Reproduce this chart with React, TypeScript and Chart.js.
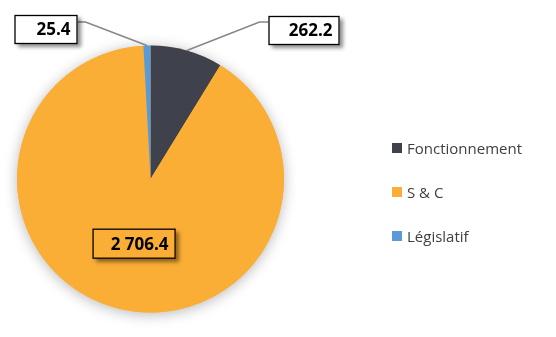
import React, { useEffect, useRef } from "react";
import { Chart, registerables } from "chart.js";

Chart.register(...registerables);

const categories = ["Fonctionnement", "S & C", "Législatif"];
const values = [262.2, 2706.4, 25.4];
const colors = ["#3F414C", "#FBAE36", "#5B9BD5"];

// label placement (layout only), relative to pie centre
const labelLayout = [
  { kind: "out", box: { dx: 118, dy: -163, w: 71, h: 29 }, elbow: { dx: 109, dy: -157 }, side: "left" },
  { kind: "in", k: 0.5, w: 83, h: 30 },
  { kind: "out", box: { dx: -136, dy: -164, w: 63, h: 29 }, elbow: { dx: -65, dy: -157 }, side: "right" },
];

function fmt(v: number): string {
  const [i, d] = v.toFixed(1).split(".");
  return i.replace(/\B(?=(\d{3})+(?!\d))/g, " ") + "." + d;
}

const FONT = "'Open Sans', 'Noto Sans', sans-serif";

const shadowPlugin = {
  id: "pieShadow",
  beforeDatasetsDraw(chart: any) {
    const meta = chart.getDatasetMeta(0);
    const a = meta.data[0];
    if (!a) return;
    const ctx = chart.ctx;
    ctx.save();
    ctx.shadowColor = "rgba(0,0,0,0.28)";
    ctx.shadowBlur = 14;
    ctx.shadowOffsetX = 0;
    ctx.shadowOffsetY = 2;
    ctx.fillStyle = "#FBAE36";
    ctx.beginPath();
    ctx.arc(a.x, a.y, a.outerRadius, 0, Math.PI * 2);
    ctx.fill();
    ctx.restore();
  },
};

const labelPlugin = {
  id: "boxLabels",
  afterDatasetsDraw(chart: any) {
    const meta = chart.getDatasetMeta(0);
    const ctx = chart.ctx;
    const data = chart.data.datasets[0].data as number[];
    meta.data.forEach((arc: any, i: number) => {
      const L: any = labelLayout[i];
      const cx = arc.x, cy = arc.y, r = arc.outerRadius;
      const mid = (arc.startAngle + arc.endAngle) / 2;
      const text = fmt(data[i]);
      let bx: number, by: number, bw: number, bh: number;
      if (L.kind === "out") {
        bx = cx + L.box.dx; by = cy + L.box.dy; bw = L.box.w; bh = L.box.h;
        const px = cx + Math.cos(mid) * r, py = cy + Math.sin(mid) * r;
        const ex = cx + L.elbow.dx, ey = cy + L.elbow.dy;
        const ax = L.side === "left" ? bx : bx + bw;
        ctx.save();
        ctx.strokeStyle = "#878787";
        ctx.lineWidth = 1.6;
        ctx.beginPath();
        ctx.moveTo(px, py);
        ctx.lineTo(ex, ey);
        ctx.lineTo(ax, ey);
        ctx.stroke();
        ctx.restore();
      } else {
        const px = cx + Math.cos(mid) * r * L.k, py = cy + Math.sin(mid) * r * L.k;
        bw = L.w; bh = L.h; bx = px - bw / 2; by = py - bh / 2;
      }
      ctx.save();
      ctx.shadowColor = "rgba(0,0,0,0.45)";
      ctx.shadowBlur = 4;
      ctx.shadowOffsetX = 3;
      ctx.shadowOffsetY = 3;
      ctx.fillStyle = L.kind === "out" ? "#FFFFFF" : colors[i];
      ctx.fillRect(bx, by, bw, bh);
      ctx.restore();
      ctx.save();
      ctx.strokeStyle = "#000000";
      ctx.lineWidth = 1.3;
      ctx.strokeRect(bx + 0.5, by + 0.5, bw - 1, bh - 1);
      ctx.fillStyle = "#000000";
      ctx.font = `bold 17px ${FONT}`;
      ctx.textAlign = "right";
      ctx.textBaseline = "middle";
      ctx.fillText(text, bx + bw - 7, by + bh / 2 + 1);
      ctx.restore();
    });
  },
};

export default function App() {
  const ref = useRef<HTMLCanvasElement | null>(null);
  useEffect(() => {
    if (!ref.current) return;
    const chart = new Chart(ref.current, {
      type: "pie",
      data: {
        labels: categories,
        datasets: [
          {
            data: values,
            backgroundColor: colors,
            borderWidth: 0,
          },
        ],
      },
      options: {
        animation: false,
        responsive: false,
        events: [],
        layout: { padding: { left: 17, right: 272, top: 45, bottom: 24 } },
        plugins: {
          legend: { display: false },
          tooltip: { enabled: false },
        },
      },
      plugins: [shadowPlugin, labelPlugin],
    });
    return () => chart.destroy();
  }, []);

  const rows = [148, 192, 236];
  return (
    <div style={{ position: "fixed", left: 0, top: 0, width: 556, height: 337, background: "#fff" }}>
      <canvas ref={ref} width={556} height={337} style={{ position: "absolute", left: 0, top: 0 }} />
      {categories.map((c, i) => (
        <div
          key={c}
          style={{
            position: "absolute",
            left: 392,
            top: rows[i] - 11,
            height: 22,
            display: "flex",
            alignItems: "center",
            fontFamily: FONT,
            fontSize: 15,
            color: "#404040",
            whiteSpace: "nowrap",
          }}
        >
          <span style={{ display: "inline-block", width: 10, height: 10, background: colors[i], marginRight: 5 }} />
          <span>{c}</span>
        </div>
      ))}
    </div>
  );
}
